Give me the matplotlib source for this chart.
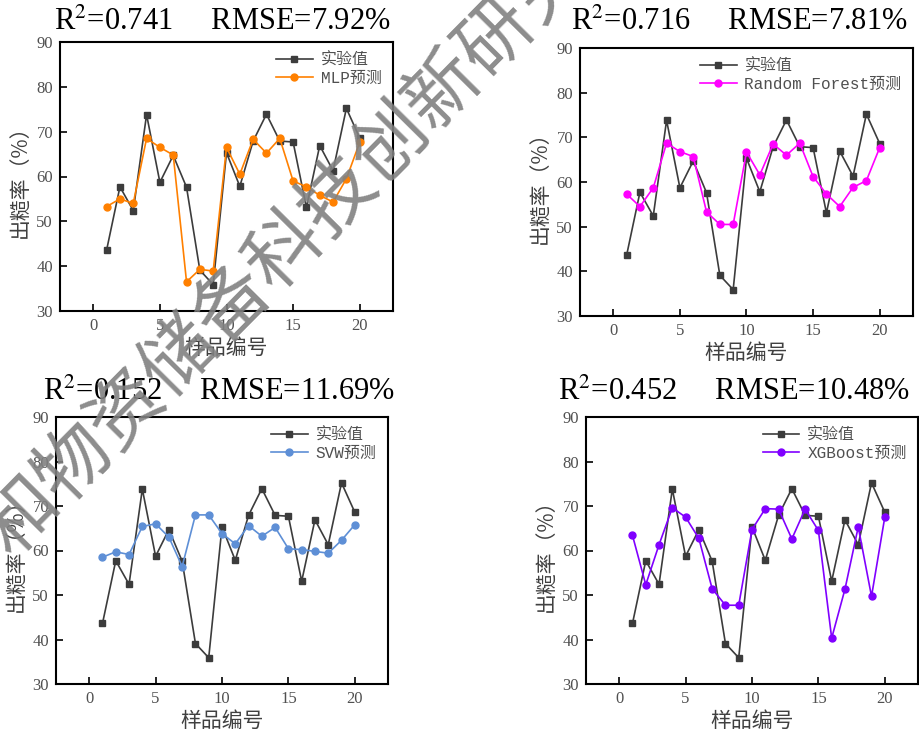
import numpy as np
import matplotlib
matplotlib.use("Agg")
import matplotlib.pyplot as plt

samples = list(range(1, 21))
actual = [43.6, 57.7, 52.4, 73.8, 58.7, 64.7, 57.6, 39.1, 35.9, 65.3,
          57.8, 67.9, 73.9, 67.9, 67.7, 53.1, 66.9, 61.3, 75.2, 68.6]
mlp = [53.3, 55.0, 54.0, 68.5, 66.5, 64.8, 36.5, 39.3, 38.9, 66.5,
       60.5, 68.3, 65.2, 68.5, 59.0, 57.7, 55.8, 54.3, 59.5, 67.6]
rf = [57.3, 54.5, 58.7, 68.7, 66.8, 65.7, 53.3, 50.5, 50.5, 66.7,
      61.6, 68.5, 66.0, 68.7, 61.2, 57.3, 54.5, 58.8, 60.3, 67.7]
svm = [58.5, 59.7, 59.1, 65.4, 66.0, 63.0, 56.4, 68.0, 68.0, 63.8,
       61.5, 65.6, 63.2, 65.2, 60.4, 60.2, 59.8, 59.4, 62.3, 65.8]
xgb = [63.4, 52.3, 61.3, 69.6, 67.5, 62.7, 51.4, 47.7, 47.7, 64.7,
       69.4, 69.3, 62.6, 69.3, 64.5, 40.3, 51.3, 65.3, 49.7, 67.5]

model_names = ["MLP预测", "Random Forest预测", "SVW预测", "XGBoost预测"]
r2_values = ["0.741", "0.716", "0.152", "0.452"]
rmse_values = ["7.92", "7.81", "11.69", "10.48"]
xticks = [0, 5, 10, 15, 20]
yticks = [30, 40, 50, 60, 70, 80, 90]

W, H = 919, 740
fig = plt.figure(figsize=(W / 100, H / 100), dpi=100)

# axes boxes in pixels: left, top, right, bottom
boxes = [(60, 42, 393, 311), (580, 48, 913, 316),
         (56, 417, 388, 684), (586, 417, 918, 684)]
title_pos = [(222, 30), (739, 30), (219, 400), (734, 400)]
colors = ["#FF8000", "#FF00FF", "#5E8FD6", "#8000FF"]
preds = [mlp, rf, svm, xgb]

serif = "Liberation Serif"
cjk = "Noto Sans CJK SC"
legend_font = {"family": ["Liberation Mono", cjk], "size": 11.5}

for i in range(4):
    l, t, r, b = boxes[i]
    ax = fig.add_axes([l / W, 1 - b / H, (r - l) / W, (b - t) / H])
    ax.plot(samples, actual, color="#3c3c3c", lw=1.2, marker="s", ms=5,
            label="实验值", zorder=2)
    ax.plot(samples, preds[i], color=colors[i], lw=1.2, marker="o", ms=5,
            label=model_names[i], zorder=3)
    ax.set_xlim(-2.5, 22.5)
    ax.set_ylim(30, 90)
    ax.set_xticks(xticks)
    ax.set_yticks(yticks)
    ax.tick_params(direction="in", length=5, width=1.2, top=False, right=False,
                   labelsize=12, labelcolor="#505050", pad=5)
    for lab in ax.get_xticklabels() + ax.get_yticklabels():
        lab.set_fontfamily(serif)
    for s in ax.spines.values():
        s.set_linewidth(1.5)
    ax.set_xlabel("样品编号", family=cjk, fontsize=15, color="#404040", labelpad=2)
    ax.set_ylabel("出糙率（%）", family=cjk, fontsize=15, color="#404040", labelpad=4)
    ax.legend(loc="upper right", frameon=False, prop=legend_font, labelcolor="#505050",
              handlelength=2.3, handletextpad=0.5, labelspacing=0.2,
              borderaxespad=0.0, bbox_to_anchor=(0.985, 0.985))

    tx, ty = title_pos[i]
    fig.text(tx / W, 1 - ty / H,
             "R$^2$=" + r2_values[i] + "     RMSE=" + rmse_values[i] + "%",
             family=serif, fontsize=22, ha="center", va="baseline",
             math_fontfamily="stix")

# diagonal watermark
fig.text(285 / W, 1 - 250 / H, "和物资储备科技创新研究", family=cjk, fontsize=54,
         fontweight="medium", color="#808080", alpha=0.9, rotation=45.3,
         ha="center", va="center", rotation_mode="anchor", zorder=10)

fig.savefig("out.png", dpi=100)
